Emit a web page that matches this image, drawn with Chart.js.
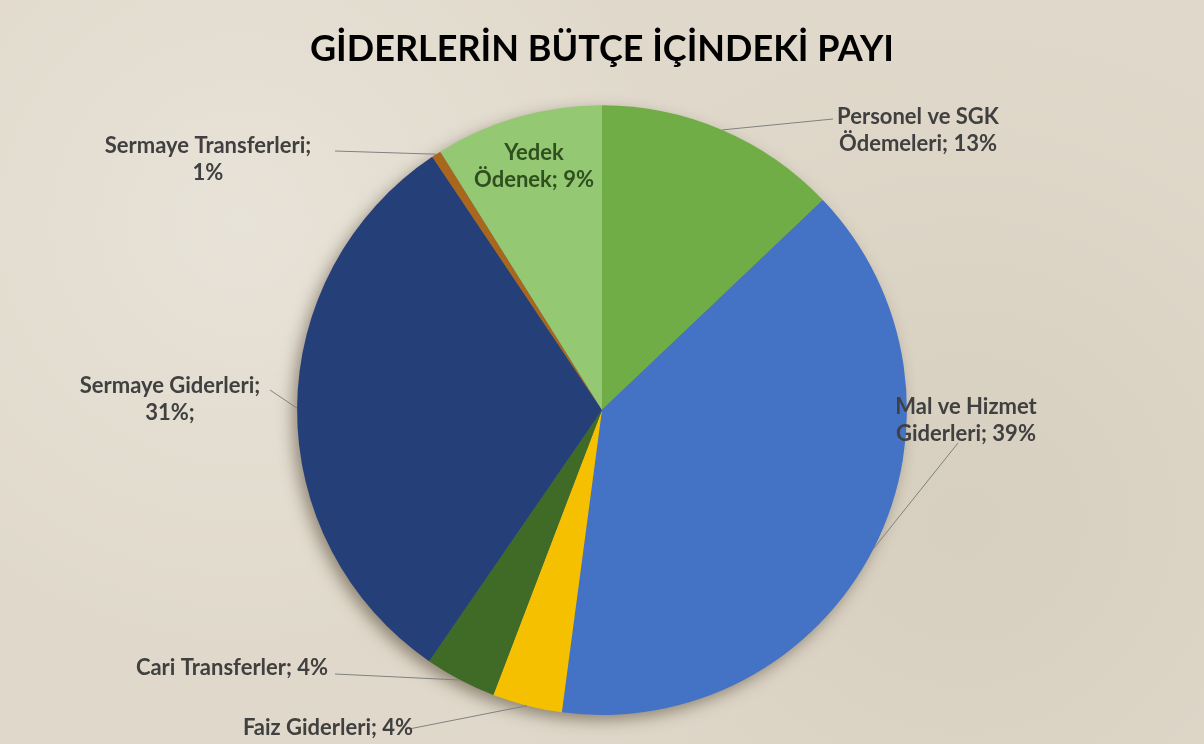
<!DOCTYPE html>
<html lang="tr">
<head>
<meta charset="utf-8">
<title>Giderlerin Bütçe İçindeki Payı</title>
<script src="https://cdn.jsdelivr.net/npm/chart.js@4"></script>
<style>
    html, body {
        margin: 0;
        padding: 0;
        width: 1204px;
        height: 744px;
        overflow: hidden;
        background: #e0d9cb;
        background-image:
            radial-gradient(circle at 20% 30%, rgba(255,255,255,0.25), rgba(255,255,255,0) 40%),
            radial-gradient(circle at 80% 70%, rgba(160,145,120,0.15), rgba(0,0,0,0) 45%);
    }
    #wrap {
        position: relative;
        width: 1204px;
        height: 744px;
    }
</style>
</head>
<body>
<div id="wrap">
    <canvas id="budgetChart" width="1204" height="744"></canvas>
</div>
<script>
const chartTitle = "GİDERLERİN BÜTÇE İÇİNDEKİ PAYI";

const categories = [
    "Personel ve SGK Ödemeleri",
    "Mal ve Hizmet Giderleri",
    "Faiz Giderleri",
    "Cari Transferler",
    "Sermaye Giderleri",
    "Sermaye Transferleri",
    "Yedek Ödenek"
];

const shares = [12.9, 39.2, 3.7, 3.8, 31.0, 0.5, 8.9];

const labelLines = [
    ["Personel ve SGK", "Ödemeleri; 13%"],
    ["Mal ve Hizmet", "Giderleri; 39%"],
    ["Faiz Giderleri; 4%"],
    ["Cari Transferler; 4%"],
    ["Sermaye Giderleri;", "31%;"],
    ["Sermaye Transferleri;", "1%"],
    ["Yedek", "Ödenek; 9%"]
];

const sliceColors = [
    "#70ad47",
    "#4472c4",
    "#f5c000",
    "#3f6b26",
    "#253f78",
    "#a8671c",
    "#95c873"
];

// where each label sits (text centre) and where its leader line leaves the text
const labelStyle = [
    { x: 918, y: 117, lineX: 833, lineY: 119 },
    { x: 966, y: 407, lineX: 958, lineY: 443 },
    { x: 328, y: 728, lineX: 409, lineY: 729 },
    { x: 232, y: 668, lineX: 335, lineY: 674 },
    { x: 170, y: 386, lineX: 270, lineY: 390 },
    { x: 208, y: 146, lineX: 335, lineY: 151 },
    { x: 534, y: 153, inside: true }
];

const labelFont = "bold 22px Lato";
const lineGap = 27;

const pieShadow = {
    id: "pieShadow",
    beforeDatasetsDraw(chart) {
        const arc = chart.getDatasetMeta(0).data[0];
        if (!arc) return;
        const ctx = chart.ctx;
        ctx.save();
        ctx.shadowColor = "rgba(60,45,25,0.5)";
        ctx.shadowBlur = 16;
        ctx.shadowOffsetX = -5;
        ctx.shadowOffsetY = 6;
        ctx.fillStyle = "#5a6a80";
        ctx.beginPath();
        ctx.arc(arc.x, arc.y, arc.outerRadius - 1, 0, Math.PI * 2);
        ctx.fill();
        ctx.restore();
    }
};

const sliceLabels = {
    id: "sliceLabels",
    afterDatasetsDraw(chart) {
        const ctx = chart.ctx;
        const meta = chart.getDatasetMeta(0);
        ctx.save();
        ctx.font = labelFont;
        ctx.textAlign = "center";
        ctx.textBaseline = "middle";

        meta.data.forEach((arc, i) => {
            const st = labelStyle[i];
            const lines = labelLines[i];

            if (!st.inside) {
                const mid = (arc.startAngle + arc.endAngle) / 2;
                const ex = arc.x + Math.cos(mid) * arc.outerRadius;
                const ey = arc.y + Math.sin(mid) * arc.outerRadius;
                ctx.strokeStyle = "#808080";
                ctx.lineWidth = 1;
                ctx.beginPath();
                ctx.moveTo(st.lineX, st.lineY);
                ctx.lineTo(ex, ey);
                ctx.stroke();
            }

            ctx.fillStyle = st.inside ? "#2f4f1f" : "#404040";
            lines.forEach((txt, k) => {
                ctx.fillText(txt, st.x, st.y + k * lineGap);
            });
        });
        ctx.restore();
    }
};

new Chart(document.getElementById("budgetChart"), {
    type: "pie",
    data: {
        labels: categories,
        datasets: [{
            data: shares,
            backgroundColor: sliceColors,
            borderWidth: 0
        }]
    },
    options: {
        responsive: false,
        animation: false,
        layout: {
            padding: { top: 0, bottom: 29, left: 0, right: 0 }
        },
        plugins: {
            legend: { display: false },
            tooltip: { enabled: false },
            title: {
                display: true,
                text: chartTitle,
                color: "#000000",
                font: { family: "Lato", size: 36, weight: "bold" },
                padding: { top: 28, bottom: 34 }
            }
        }
    },
    plugins: [pieShadow, sliceLabels]
});
</script>
</body>
</html>
